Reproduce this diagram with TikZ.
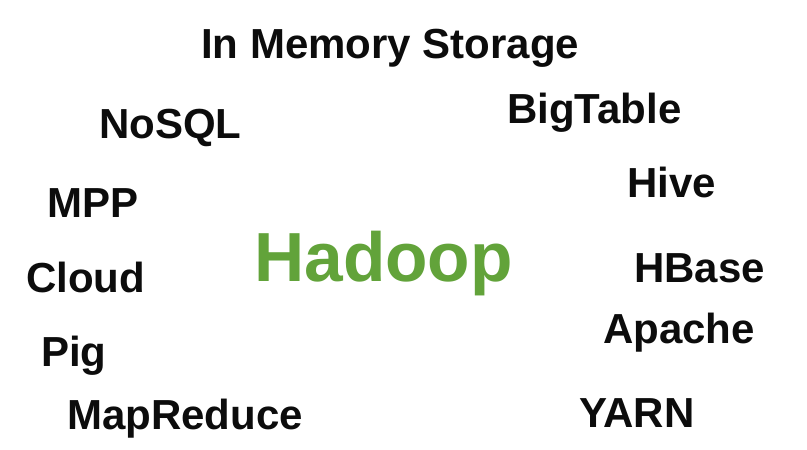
\documentclass[tikz,border=0pt]{standalone}
\usepackage{fontspec}
\setmainfont{Liberation Sans}
\definecolor{hadoopgreen}{RGB}{98,163,58}
\definecolor{wordblack}{RGB}{12,12,12}
\tikzset{
  word/.style={anchor=base west, inner sep=0pt, text=wordblack, font=\fontsize{42}{42}\selectfont\bfseries},
  bigword/.style={anchor=base west, inner sep=0pt, text=hadoopgreen, font=\fontsize{69.5}{69.5}\selectfont\bfseries}
}
\begin{document}
\begin{tikzpicture}[x=1pt,y=-1pt]
\useasboundingbox[fill=white] (0,0) rectangle (807,450);
\node[word] (ims) at (201,58) {In Memory Storage};
\node[word] (nosql) at (99,138) {NoSQL};
\node[word] (bigtable) at (507,123) {BigTable};
\node[word] (mpp) at (47,217) {MPP};
\node[word] (hive) at (627,197) {Hive};
\node[bigword] (hadoop) at (254,281) {Hadoop};
\node[word] (cloud) at (26,292) {Cloud};
\node[word] (hbase) at (634,282) {HBase};
\node[word] (apache) at (603,343) {Apache};
\node[word] (pig) at (41,366) {Pig};
\node[word] (mapreduce) at (67,429) {MapReduce};
\node[word] (yarn) at (579,427) {YARN};
\end{tikzpicture}
\end{document}
